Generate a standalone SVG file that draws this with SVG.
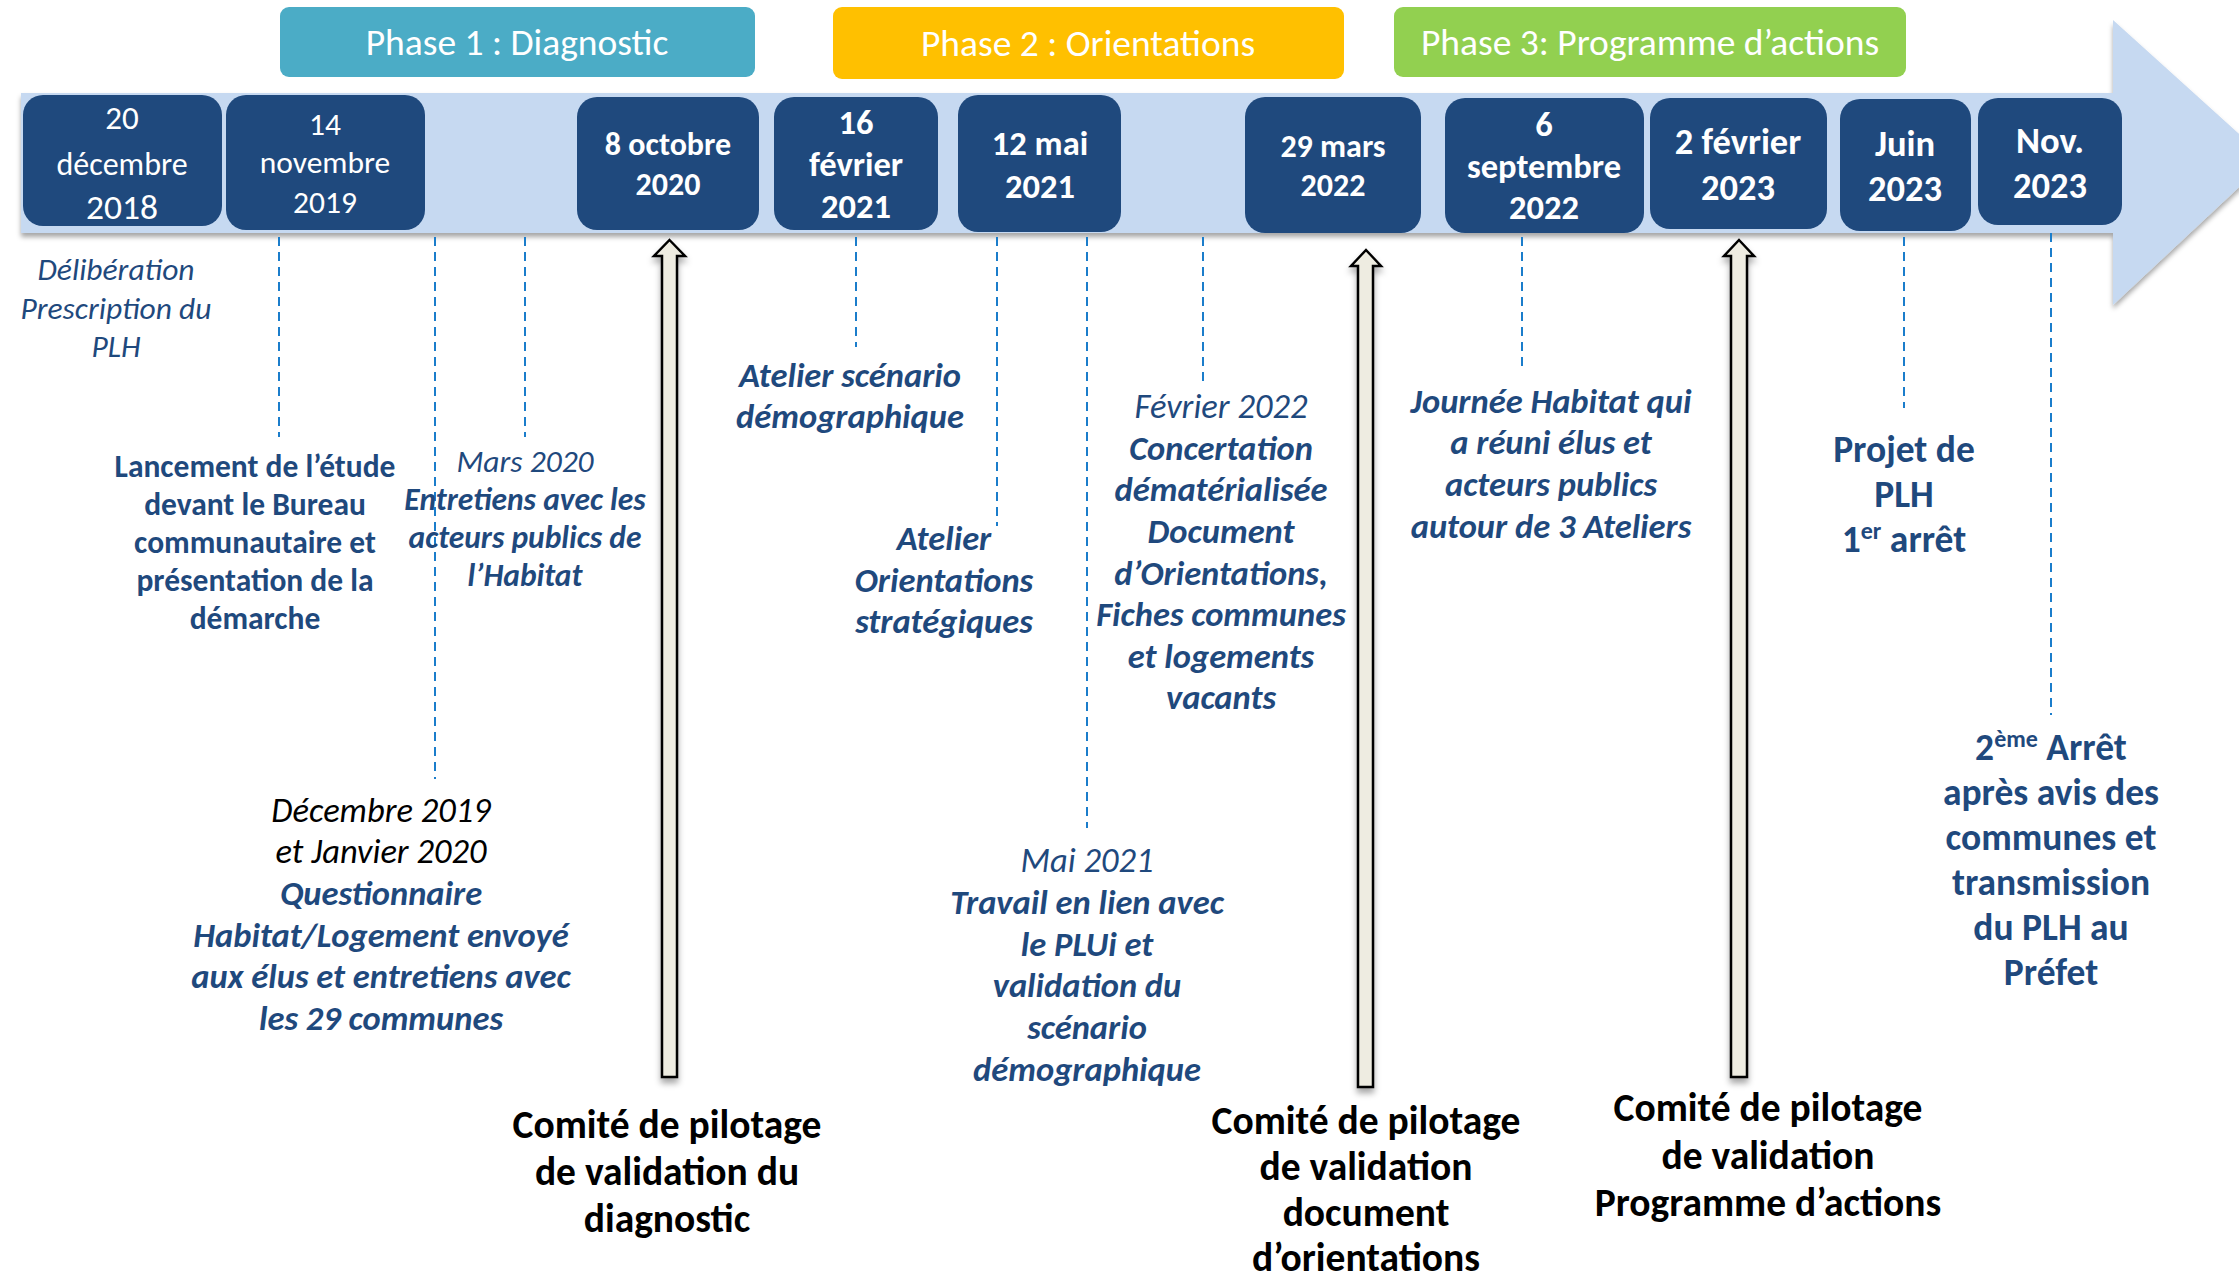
<svg xmlns="http://www.w3.org/2000/svg" width="2239" height="1283" viewBox="0 0 2239 1283">
<defs>
<style>
text{font-family:Carlito,Lato,"Liberation Sans",sans-serif;text-anchor:middle}
.w{fill:#fff}
.b{fill:#1F497D}
.k{fill:#000}
.bd{font-weight:bold}
.it{font-style:italic}
.date{fill:#1F497D}
.dash{stroke:#1B7DCB;stroke-width:2;stroke-dasharray:9 6;fill:none}
.up{fill:#EEECE1;stroke:#000;stroke-width:2.5;stroke-linejoin:miter}
</style>
<filter id="sh" x="-20%" y="-20%" width="140%" height="140%">
<feDropShadow dx="0" dy="4" stdDeviation="2.5" flood-color="#000" flood-opacity="0.35"/>
</filter>
<filter id="sh2" x="-50%" y="-5%" width="200%" height="110%">
<feDropShadow dx="0" dy="5" stdDeviation="3" flood-color="#000" flood-opacity="0.35"/>
</filter>
</defs>
<rect width="2239" height="1283" fill="#fff"/>

<g id="timeline">
<path d="M21,93 H2113 V20 L2268,160 L2113,305 V233 H21 Z" fill="#C6D9F1" filter="url(#sh)"/>
</g>

<g id="phase1"><rect x="280" y="7" width="475" height="70" rx="9" fill="#4BACC6"/><text class="w" x="517" y="55" font-size="37.5">Phase 1 : Diagnostic</text></g>
<g id="phase2"><rect x="833" y="7" width="511" height="72" rx="9" fill="#FFC000"/><text class="w" x="1088" y="56" font-size="37.5">Phase 2 : Orientations</text></g>
<g id="phase3"><rect x="1394" y="7" width="512" height="70" rx="9" fill="#92D050"/><text class="w" x="1650" y="55" font-size="37.5">Phase 3: Programme d’actions</text></g>

<g id="d2018"><rect class="date" x="23" y="95" width="199" height="131" rx="20"/>
<text class="w" x="122" y="129" font-size="33">20</text><text class="w" x="122" y="175" font-size="32">décembre</text><text class="w" x="122" y="219" font-size="35.5">2018</text></g>
<g id="d2019"><rect class="date" x="226" y="95" width="199" height="135" rx="20"/>
<text class="w" x="325" y="135" font-size="31.5">14</text><text class="w" x="325" y="173" font-size="31.5">novembre</text><text class="w" x="325" y="213" font-size="31.5">2019</text></g>
<g id="d2020"><rect class="date" x="577" y="97" width="182" height="133" rx="20"/>
<text class="w bd" x="668" y="155" font-size="32">8 octobre</text><text class="w bd" x="668" y="195" font-size="32">2020</text></g>
<g id="d2021a"><rect class="date" x="774" y="97" width="164" height="133" rx="20"/>
<text class="w bd" x="856" y="134" font-size="34.5">16</text><text class="w bd" x="856" y="176" font-size="34.5">février</text><text class="w bd" x="856" y="218" font-size="34.5">2021</text></g>
<g id="d2021b"><rect class="date" x="958" y="95" width="163" height="137" rx="20"/>
<text class="w bd" x="1040" y="155" font-size="34.5">12 mai</text><text class="w bd" x="1040" y="198" font-size="34.5">2021</text></g>
<g id="d2022a"><rect class="date" x="1245" y="97" width="176" height="136" rx="20"/>
<text class="w bd" x="1333" y="157" font-size="32">29 mars</text><text class="w bd" x="1333" y="196" font-size="32">2022</text></g>
<g id="d2022b"><rect class="date" x="1445" y="98" width="199" height="135" rx="20"/>
<text class="w bd" x="1544" y="136" font-size="34.5">6</text><text class="w bd" x="1544" y="178" font-size="34.5">septembre</text><text class="w bd" x="1544" y="219" font-size="34.5">2022</text></g>
<g id="d2023a"><rect class="date" x="1650" y="98" width="177" height="131" rx="20"/>
<text class="w bd" x="1738" y="154" font-size="36.5">2 février</text><text class="w bd" x="1738" y="200" font-size="36.5">2023</text></g>
<g id="d2023b"><rect class="date" x="1840" y="99" width="131" height="132" rx="20"/>
<text class="w bd" x="1905" y="156" font-size="36.5">Juin</text><text class="w bd" x="1905" y="201" font-size="36.5">2023</text></g>
<g id="d2023c"><rect class="date" x="1978" y="98" width="144" height="127" rx="20"/>
<text class="w bd" x="2050" y="153" font-size="36.5">Nov.</text><text class="w bd" x="2050" y="198" font-size="36.5">2023</text></g>

<g id="connectors">
<line class="dash" x1="279" y1="237" x2="279" y2="437"/>
<line class="dash" x1="435" y1="237" x2="435" y2="779"/>
<line class="dash" x1="525" y1="237" x2="525" y2="437"/>
<line class="dash" x1="856" y1="237" x2="856" y2="347"/>
<line class="dash" x1="997" y1="237" x2="997" y2="526"/>
<line class="dash" x1="1087" y1="237" x2="1087" y2="828"/>
<line class="dash" x1="1203" y1="237" x2="1203" y2="383"/>
<line class="dash" x1="1522" y1="237" x2="1522" y2="369"/>
<line class="dash" x1="1904" y1="237" x2="1904" y2="408"/>
<line class="dash" x1="2051" y1="233" x2="2051" y2="715"/>
<path class="up" filter="url(#sh2)" d="M669.5,240 L685,256 L677,256 L677,1077 L662,1077 L662,256 L654,256 Z"/>
<path class="up" filter="url(#sh2)" d="M1366,250 L1381,266 L1373,266 L1373,1087 L1358,1087 L1358,266 L1351,266 Z"/>
<path class="up" filter="url(#sh2)" d="M1739,240 L1754,256 L1747,256 L1747,1077 L1731,1077 L1731,256 L1724,256 Z"/>
</g>

<g id="t-deliberation"><text class="b it" font-size="31.5"><tspan x="116" y="280">Délibération</tspan><tspan x="116" y="319">Prescription du</tspan><tspan x="116" y="357">PLH</tspan></text></g>
<g id="t-lancement"><text class="b bd" font-size="31.5"><tspan x="255" y="477">Lancement de l’étude</tspan><tspan x="255" y="515">devant le Bureau</tspan><tspan x="255" y="553">communautaire et</tspan><tspan x="255" y="591">présentation de la</tspan><tspan x="255" y="629">démarche</tspan></text></g>
<g id="t-mars2020"><text class="b it" font-size="31.5"><tspan x="525" y="472">Mars 2020</tspan></text><text class="b it bd" font-size="31.5"><tspan x="525" y="510">Entretiens avec les</tspan><tspan x="525" y="548">acteurs publics de</tspan><tspan x="525" y="586">l’Habitat</tspan></text></g>
<g id="t-questionnaire"><text class="k it" font-size="34.5"><tspan x="381" y="822">Décembre 2019</tspan><tspan x="381" y="863">et Janvier 2020</tspan></text><text class="b it bd" font-size="34.5"><tspan x="381" y="905">Questionnaire</tspan><tspan x="381" y="947">Habitat/Logement envoyé</tspan><tspan x="381" y="988">aux élus et entretiens avec</tspan><tspan x="381" y="1030">les 29 communes</tspan></text></g>
<g id="t-copil1"><text class="k bd" font-size="39.5"><tspan x="667" y="1138">Comité de pilotage</tspan><tspan x="667" y="1185">de validation du</tspan><tspan x="667" y="1232">diagnostic</tspan></text></g>
<g id="t-atelier1"><text class="b it bd" font-size="34.5"><tspan x="850" y="387">Atelier scénario</tspan><tspan x="850" y="428">démographique</tspan></text></g>
<g id="t-atelier2"><text class="b it bd" font-size="34.5"><tspan x="944" y="550">Atelier</tspan><tspan x="944" y="592">Orientations</tspan><tspan x="944" y="633">stratégiques</tspan></text></g>
<g id="t-fevrier2022"><text class="b it" font-size="34.5"><tspan x="1221" y="418">Février 2022</tspan></text><text class="b it bd" font-size="34.5"><tspan x="1221" y="460">Concertation</tspan><tspan x="1221" y="501">dématérialisée</tspan><tspan x="1221" y="543">Document</tspan><tspan x="1221" y="585">d’Orientations,</tspan><tspan x="1221" y="626">Fiches communes</tspan><tspan x="1221" y="668">et logements</tspan><tspan x="1221" y="709">vacants</tspan></text></g>
<g id="t-mai2021"><text class="b it" font-size="34.5"><tspan x="1087" y="872">Mai 2021</tspan></text><text class="b it bd" font-size="34.5"><tspan x="1087" y="914">Travail en lien avec</tspan><tspan x="1087" y="956">le PLUi et</tspan><tspan x="1087" y="997">validation du</tspan><tspan x="1087" y="1039">scénario</tspan><tspan x="1087" y="1081">démographique</tspan></text></g>
<g id="t-copil2"><text class="k bd" font-size="39.5"><tspan x="1366" y="1134">Comité de pilotage</tspan><tspan x="1366" y="1180">de validation</tspan><tspan x="1366" y="1226">document</tspan><tspan x="1366" y="1271">d’orientations</tspan></text></g>
<g id="t-copil3"><text class="k bd" font-size="39.5"><tspan x="1768" y="1121">Comité de pilotage</tspan><tspan x="1768" y="1169">de validation</tspan><tspan x="1768" y="1216">Programme d’actions</tspan></text></g>
<g id="t-journee"><text class="b it bd" font-size="34.5"><tspan x="1551" y="413">Journée Habitat qui</tspan><tspan x="1551" y="454">a réuni élus et</tspan><tspan x="1551" y="496">acteurs publics</tspan><tspan x="1551" y="538">autour de 3 Ateliers</tspan></text></g>
<g id="t-projet"><text class="b bd" font-size="37.5"><tspan x="1904" y="462">Projet de</tspan><tspan x="1904" y="507">PLH</tspan></text><text class="b bd" font-size="37.5" x="1904" y="552">1<tspan font-size="24" dy="-13">er</tspan><tspan dy="13"> arrêt</tspan></text></g>
<g id="t-arret2"><text class="b bd" font-size="37.5" x="2051" y="760">2<tspan font-size="24" dy="-13">ème</tspan><tspan dy="13"> Arrêt</tspan></text><text class="b bd" font-size="37.5"><tspan x="2051" y="805">après avis des</tspan><tspan x="2051" y="850">communes et</tspan><tspan x="2051" y="895">transmission</tspan><tspan x="2051" y="940">du PLH au</tspan><tspan x="2051" y="985">Préfet</tspan></text></g>
</svg>
